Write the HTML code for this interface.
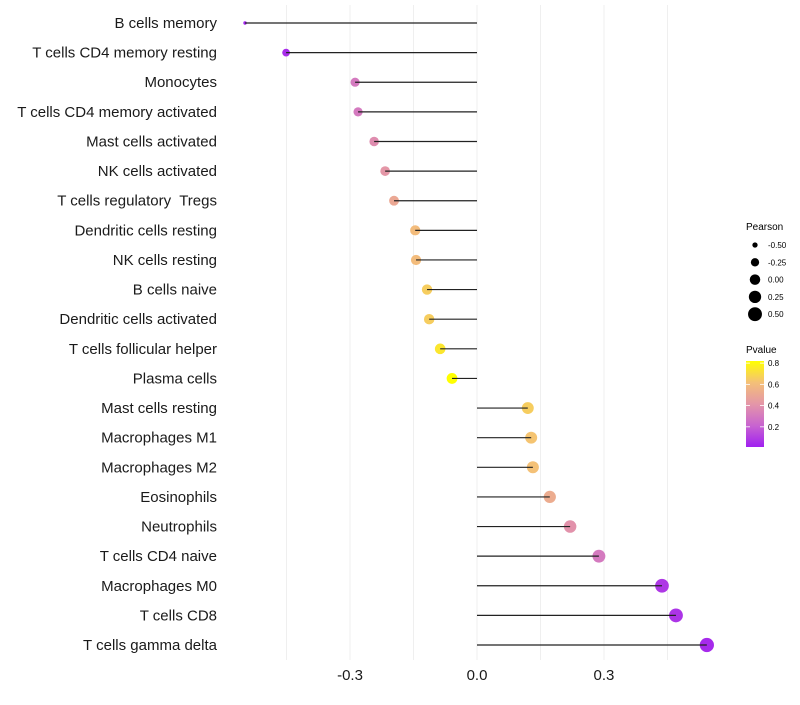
<!DOCTYPE html>
<html><head><meta charset="utf-8"><style>
body{margin:0;background:#fff;font-family:"Liberation Sans",sans-serif}
text{white-space:pre}
</style></head><body>
<svg id="chart" width="800" height="700" xmlns="http://www.w3.org/2000/svg" font-family="Liberation Sans, sans-serif">
<defs><linearGradient id="pg" x1="0" y1="1" x2="0" y2="0">
<stop offset="0" stop-color="#A020F0"/><stop offset="0.25" stop-color="#C864D0"/><stop offset="0.5" stop-color="#E496A8"/><stop offset="0.75" stop-color="#F4C078"/><stop offset="1" stop-color="#FFFF00"/></linearGradient></defs>
<g id="grid"></g>
<g id="marks"></g>
<g id="ylabels"></g>
<g id="xlabels"></g>
<g id="sizeLegend">
<text x="746" y="230" font-size="10" fill="#000">Pearson</text>
</g>
<g>
<text x="746" y="353" font-size="10" fill="#000">Pvalue</text>
<rect x="746" y="361" width="18" height="86" fill="url(#pg)"/>
<g id="cbTicks"></g>
</g>
</svg>
<script>
const categories=["B cells memory","T cells CD4 memory resting","Monocytes","T cells CD4 memory activated","Mast cells activated","NK cells activated","T cells regulatory  Tregs","Dendritic cells resting","NK cells resting","B cells naive","Dendritic cells activated","T cells follicular helper","Plasma cells","Mast cells resting","Macrophages M1","Macrophages M2","Eosinophils","Neutrophils","T cells CD4 naive","Macrophages M0","T cells CD8","T cells gamma delta"];
const pearson=[-0.548,-0.451,-0.288,-0.281,-0.243,-0.217,-0.196,-0.146,-0.144,-0.118,-0.113,-0.087,-0.059,0.120,0.128,0.132,0.172,0.220,0.288,0.437,0.470,0.543];
const pvalue=[0.02,0.05,0.3,0.3,0.38,0.42,0.5,0.6,0.6,0.66,0.66,0.74,0.82,0.66,0.63,0.62,0.52,0.4,0.3,0.08,0.07,0.04];
const xTicks=[-0.3,0.0,0.3];
const xTickLabels=["-0.3","0.0","0.3"];
const gridVals=[-0.45,-0.3,-0.15,0,0.15,0.3,0.45];
const sizeLegendVals=[-0.5,-0.25,0,0.25,0.5];
const sizeLegendLabels=["-0.50","-0.25","0.00","0.25","0.50"];
const cbTickVals=[0.2,0.4,0.6,0.8];

const NS="http://www.w3.org/2000/svg";
const x=v=>477+v*423.3;
const y=i=>23+i*29.62;
function r(p){let a=p>=-0.451?15+36*(p+0.451):15-124*(-0.451-p);return Math.sqrt(Math.max(3,a));}
const rl=p=>Math.sqrt(Math.max(3,5+45*(p+0.548)/1.091));
const cbY=v=>447-(v-0.01)/0.81*86;
const stops=[[0,[160,32,240]],[0.25,[200,100,208]],[0.5,[228,150,168]],[0.75,[244,192,120]],[1,[255,255,0]]];
function col(p){let t=Math.min(1,Math.max(0,(p-0.01)/0.81));for(let k=1;k<stops.length;k++){if(t<=stops[k][0]){const a=stops[k-1],b=stops[k],f=(t-a[0])/(b[0]-a[0]);return "rgb("+a[1].map((c,j)=>Math.round(c+(b[1][j]-c)*f)).join(",")+")";}}return "rgb(255,255,0)";}
function mk(tag,attrs,parent){const e=document.createElementNS(NS,tag);for(const k in attrs)e.setAttribute(k,attrs[k]);parent.appendChild(e);return e;}
const grid=document.getElementById('grid'),marks=document.getElementById('marks'),yl=document.getElementById('ylabels'),xl=document.getElementById('xlabels');
gridVals.forEach(v=>{const l=mk('line',{x1:x(v),x2:x(v),y1:5,y2:660,stroke:'#efefef','stroke-width':1},grid);

});
categories.forEach((c,i)=>{
const cy=y(i);
const dot=mk('circle',{cx:x(pearson[i]),cy:cy,r:r(pearson[i]),fill:col(pvalue[i])},marks);


const ln=mk('line',{x1:x(pearson[i]),x2:x(0),y1:cy,y2:cy,stroke:'#222','stroke-width':1.2},marks);


const t=mk('text',{x:217,y:cy+5,'text-anchor':'end','font-size':15,fill:'#1a1a1a'},yl);
t.textContent=c;


});
xTicks.forEach((v,i)=>{const t=mk('text',{x:x(v),y:680,'text-anchor':'middle','font-size':15,fill:'#1a1a1a'},xl);t.textContent=xTickLabels[i];

});
const sl=document.getElementById('sizeLegend');
sizeLegendVals.forEach((v,i)=>{const cy=245+i*17.3;
const c=mk('circle',{cx:755,cy:cy,r:rl(v),fill:'#000'},sl);


const t=mk('text',{x:768,y:cy+3,'font-size':8,fill:'#000'},sl);t.textContent=sizeLegendLabels[i];

});
const cb=document.getElementById('cbTicks');
cbTickVals.forEach(v=>{const yy=cbY(v);
mk('line',{x1:746,x2:750,y1:yy,y2:yy,stroke:'#fff','stroke-width':0.8},cb);
mk('line',{x1:760,x2:764,y1:yy,y2:yy,stroke:'#fff','stroke-width':0.8},cb);
const t=mk('text',{x:768,y:yy+3,'font-size':8,fill:'#000'},cb);t.textContent=v.toFixed(1);

});
</script>
</body></html>
